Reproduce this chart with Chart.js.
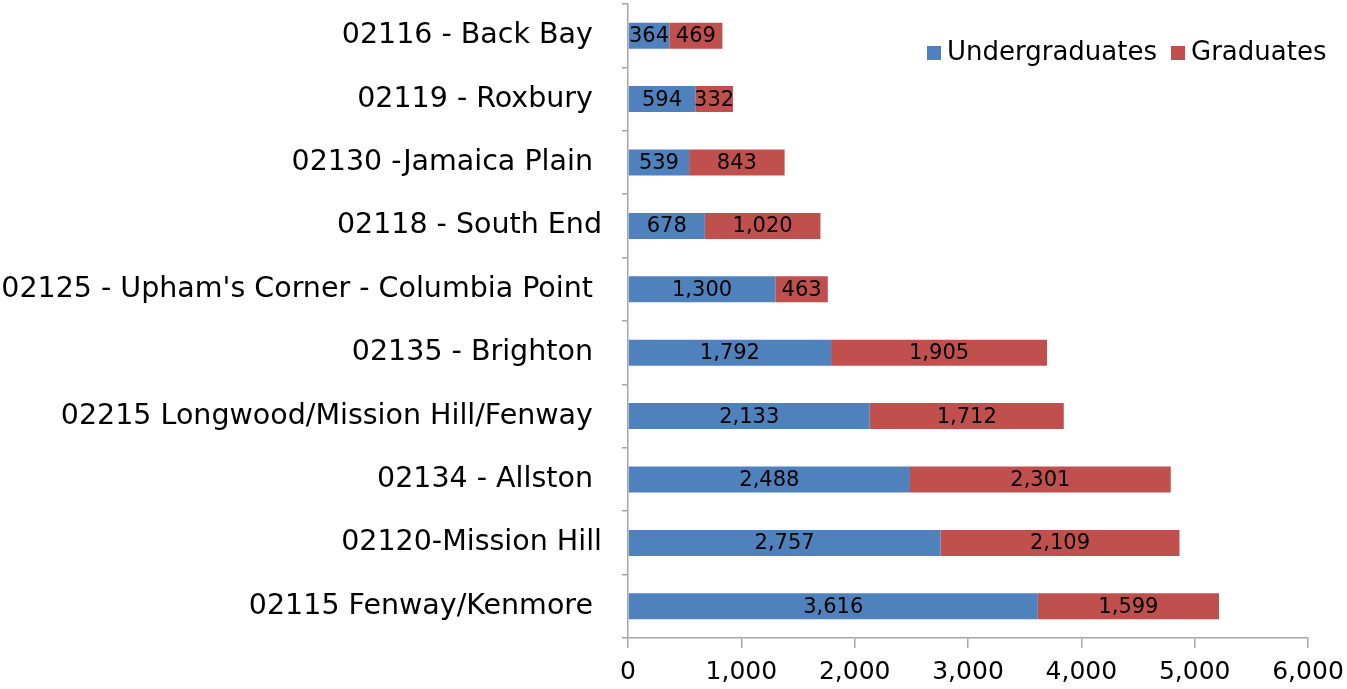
<!DOCTYPE html>
<html lang="en">
<head>
    <meta charset="UTF-8">
    <title>Students by ZIP code</title>
    <script src="https://cdn.jsdelivr.net/npm/chart.js"></script>
    <style>
        html, body { margin: 0; padding: 0; background: #fff; }
        .chart-container { width: 1347px; height: 689px; }
    </style>
</head>
<body>
<div class="chart-container">
    <canvas id="zipChart"></canvas>
</div>
<script>
    const zipCodes = [
        '02116 - Back Bay ', '02119 - Roxbury ', '02130 -Jamaica Plain ', '02118 - South End',
        "02125 - Upham's Corner - Columbia Point ", '02135 - Brighton ',
        '02215 Longwood/Mission Hill/Fenway ', '02134 - Allston ', '02120-Mission Hill',
        '02115 Fenway/Kenmore '
    ];
    const undergraduates = [364, 594, 539, 678, 1300, 1792, 2133, 2488, 2757, 3616];
    const graduates = [469, 332, 843, 1020, 463, 1905, 1712, 2301, 2109, 1599];
    const xTicks = [0, 1000, 2000, 3000, 4000, 5000, 6000];

    const textFont = "'DejaVu Sans', sans-serif";

    // value labels in the middle of each bar segment
    const barLabels = {
        id: 'barLabels',
        afterDatasetsDraw(chart) {
            const ctx = chart.ctx;
            ctx.save();
            ctx.font = '21px ' + textFont;
            ctx.fillStyle = '#000';
            ctx.textAlign = 'center';
            ctx.textBaseline = 'middle';
            chart.data.datasets.forEach((ds, i) => {
                chart.getDatasetMeta(i).data.forEach((bar, j) => {
                    const cx = (bar.x + bar.base) / 2;
                    ctx.fillText(ds.data[j].toLocaleString('en-US'), cx, bar.y + 1);
                });
            });
            ctx.restore();
        }
    };

    // legend drawn inside the plot, top right
    const innerLegend = {
        id: 'innerLegend',
        afterDraw(chart) {
            const ctx = chart.ctx;
            ctx.save();
            ctx.font = '26px ' + textFont;
            ctx.textBaseline = 'middle';
            ctx.textAlign = 'left';
            let x = 927;
            const y = 53;
            chart.data.datasets.forEach(ds => {
                ctx.fillStyle = ds.backgroundColor;
                ctx.fillRect(x, y - 7, 14, 14);
                ctx.fillStyle = '#000';
                ctx.fillText(ds.label, x + 20, y);
                x += 20 + ctx.measureText(ds.label).width + 14;
            });
            ctx.restore();
        }
    };

    new Chart(document.getElementById('zipChart'), {
        type: 'bar',
        data: {
            labels: zipCodes,
            datasets: [
                { label: 'Undergraduates', data: undergraduates, backgroundColor: '#4F81BD' },
                { label: 'Graduates', data: graduates, backgroundColor: '#C0504D' }
            ]
        },
        options: {
            indexAxis: 'y',
            responsive: true,
            maintainAspectRatio: false,
            animation: false,
            layout: { padding: { top: 4, right: 39, left: 0, bottom: 0 } },
            barPercentage: 0.82,
            categoryPercentage: 0.5,
            plugins: {
                legend: { display: false },
                tooltip: { enabled: false }
            },
            scales: {
                x: {
                    stacked: true,
                    min: 0,
                    max: 6000,
                    afterBuildTicks(scale) {
                        scale.ticks = xTicks.map(v => ({ value: v }));
                    },
                    afterFit(scale) {
                        scale.height = 51;
                        scale.paddingLeft = 0;
                        scale.paddingRight = 0;
                    },
                    grid: { drawOnChartArea: false, tickLength: 10, color: '#A6A6A6', lineWidth: 1.5 },
                    border: { color: '#A6A6A6', width: 1.5 },
                    ticks: {
                        color: '#000',
                        font: { family: textFont, size: 25 },
                        padding: 9,
                        callback: v => v.toLocaleString('en-US')
                    }
                },
                y: {
                    stacked: true,
                    afterFit(scale) {
                        scale.width = 628;
                        scale.paddingTop = 0;
                        scale.paddingBottom = 0;
                    },
                    grid: { drawOnChartArea: false, tickLength: 6, color: '#A6A6A6', lineWidth: 1.5, offset: true },
                    border: { color: '#A6A6A6', width: 1.5 },
                    ticks: {
                        color: '#000',
                        font: { family: textFont, size: 28.5 },
                        padding: 20
                    }
                }
            }
        },
        plugins: [barLabels, innerLegend]
    });
</script>
</body>
</html>
